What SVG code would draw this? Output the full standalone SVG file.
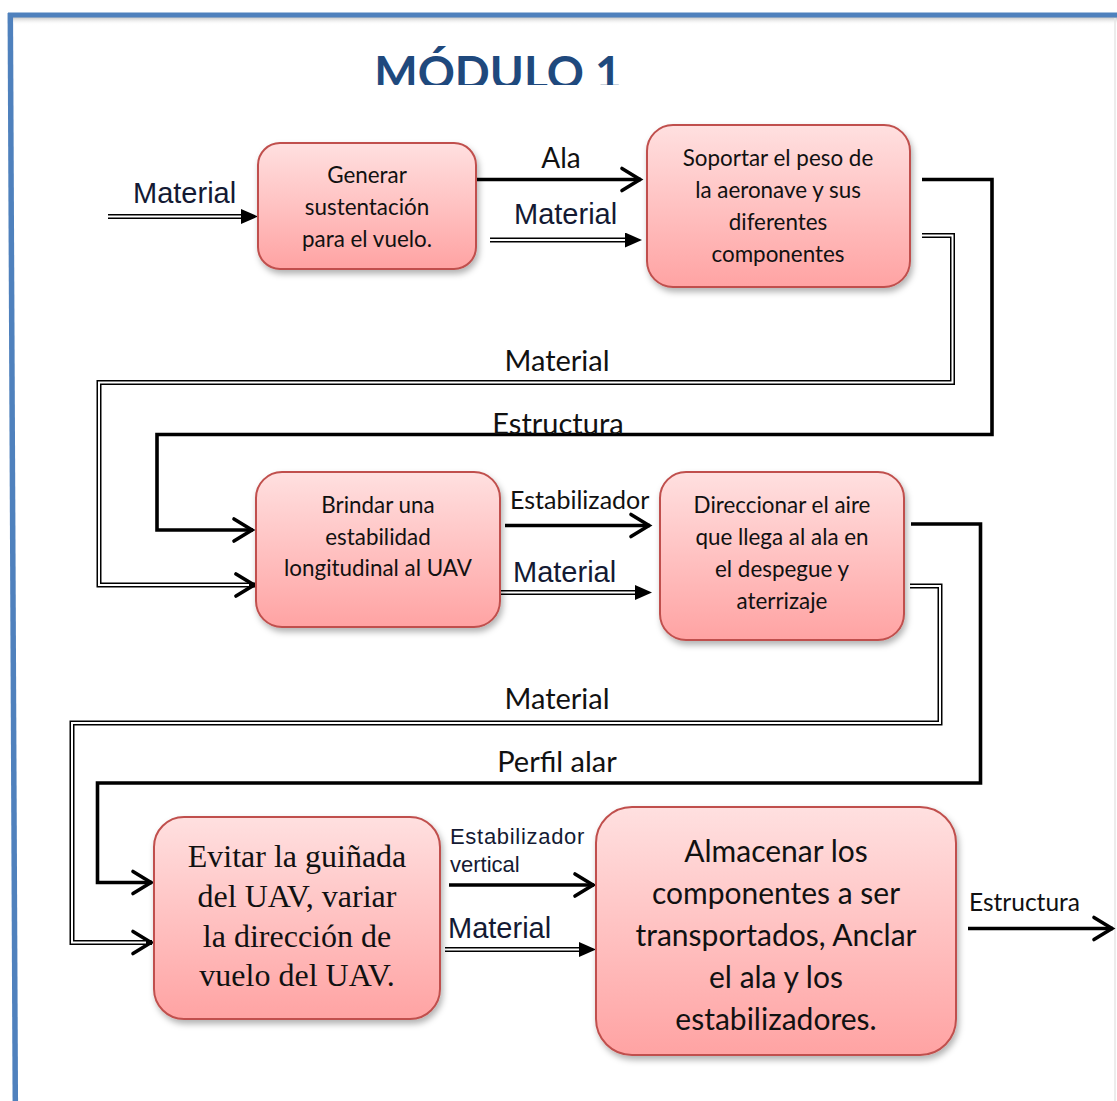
<svg xmlns="http://www.w3.org/2000/svg" width="1117" height="1101" viewBox="0 0 1117 1101">
<defs>
<style>
.box{stroke:#c0504d;stroke-width:2;fill:url(#pink);filter:url(#sh)}
.bt{font-family:Lato,"Liberation Sans",sans-serif;font-size:22.4px;fill:#111;text-anchor:middle}
.bt6{font-family:Lato,"Liberation Sans",sans-serif;font-size:30px;fill:#111;text-anchor:middle}
.bt5{font-family:"Liberation Serif","Times New Roman",serif;font-size:32px;fill:#111;text-anchor:middle}
.lab{font-family:Lato,"Liberation Sans",sans-serif;fill:#111}
.ar{font-family:"Liberation Sans",Arial,sans-serif;fill:#141a33}
.thick{fill:none;stroke:#000;stroke-width:3.6;stroke-linejoin:miter}
.dblo{fill:none;stroke:#000;stroke-width:5;stroke-linejoin:miter}
.dbli{fill:none;stroke:#fff;stroke-width:2;stroke-linejoin:miter}
</style>
<linearGradient id="pink" x1="0" y1="0" x2="0" y2="1">
<stop offset="0" stop-color="#ffe0e0"/>
<stop offset="1" stop-color="#ffa3a3"/>
</linearGradient>
<filter id="sh" x="-10%" y="-10%" width="125%" height="130%">
<feDropShadow dx="2" dy="4" stdDeviation="3" flood-color="#000" flood-opacity="0.3"/>
</filter>
<marker id="chev" markerUnits="userSpaceOnUse" viewBox="0 0 26 28" markerWidth="26" markerHeight="28" refX="22" refY="14" orient="auto">
<path d="M3,3 L21,14 L3,25" fill="none" stroke="#000" stroke-width="3.6" stroke-linecap="round"/>
</marker>
<marker id="tri" markerUnits="userSpaceOnUse" viewBox="0 0 17 15" markerWidth="17" markerHeight="15" refX="0" refY="7.5" orient="auto">
<path d="M0,0 L17,7.5 L0,15 z" fill="#000"/>
</marker>
<clipPath id="tclip"><rect x="0" y="0" width="1117" height="85"/></clipPath>
<linearGradient id="fsh" x1="0" y1="0" x2="0" y2="1">
<stop offset="0" stop-color="#999" stop-opacity="0.6"/>
<stop offset="1" stop-color="#fff" stop-opacity="0"/>
</linearGradient>
</defs>
<rect width="1117" height="1101" fill="#fff"/>
<g id="frame">
<rect x="10" y="17" width="1107" height="8" fill="url(#fsh)"/>
<line x1="1115" y1="18" x2="1115" y2="1101" stroke="#e6e6e6" stroke-width="1.5"/>
<line x1="8" y1="15" x2="1117" y2="15" stroke="#4f81bd" stroke-width="5"/>
<line x1="10.3" y1="13" x2="15.3" y2="1101" stroke="#4f81bd" stroke-width="5.5"/>
</g>
<g id="title" clip-path="url(#tclip)">
<text x="498" y="89" font-family="Lato,'Liberation Sans',sans-serif" font-weight="bold" font-size="46" fill="#1f497d" text-anchor="middle">MÓDULO 1</text>
</g>
<g id="connectors">
<path class="dblo" d="M108,216.5 H241" marker-end="url(#tri)"/>
<path class="dbli" d="M108,216.5 H241"/>
<text class="ar" x="133" y="203" font-size="29">Material</text>
<path class="thick" d="M477,179.5 H641" marker-end="url(#chev)"/>
<text class="lab" x="561" y="168" font-size="28" text-anchor="middle">Ala</text>
<path class="dblo" d="M490,240 H625" marker-end="url(#tri)"/>
<path class="dbli" d="M490,240 H625"/>
<text class="ar" x="514" y="224" font-size="29">Material</text>
<path class="thick" d="M922,179.5 H992 V434.5 H157 V530 H253" marker-end="url(#chev)"/>
<text class="lab" x="558" y="434" font-size="29" text-anchor="middle">Estructura</text>
<path class="dblo" d="M922,235.5 H952.5 V382.5 H99 V585 H255" marker-end="url(#chev)"/>
<path class="dbli" d="M922,235.5 H952.5 V382.5 H99 V585 H249"/>
<text class="lab" x="557" y="371" font-size="29" text-anchor="middle">Material</text>
<path class="thick" d="M505,525.5 H650" marker-end="url(#chev)"/>
<text class="lab" x="510" y="509" font-size="25">Estabilizador</text>
<path class="dblo" d="M500,592.5 H635" marker-end="url(#tri)"/>
<path class="dbli" d="M500,592.5 H635"/>
<text class="ar" x="513" y="582" font-size="29">Material</text>
<path class="thick" d="M911,524 H980.5 V783 H97.5 V882.5 H152" marker-end="url(#chev)"/>
<text class="lab" x="557" y="772" font-size="29" text-anchor="middle">Perfil alar</text>
<path class="dblo" d="M910,586 H940 V723 H72 V942.5 H152" marker-end="url(#chev)"/>
<path class="dbli" d="M910,586 H940 V723 H72 V942.5 H146"/>
<text class="lab" x="557" y="709" font-size="29" text-anchor="middle">Material</text>
<path class="thick" d="M449,885 H594" marker-end="url(#chev)"/>
<text class="ar" x="450" y="844" font-size="22" letter-spacing="0.7">Estabilizador</text>
<text class="ar" x="450" y="872" font-size="22">vertical</text>
<path class="dblo" d="M445,949.5 H579" marker-end="url(#tri)"/>
<path class="dbli" d="M445,949.5 H579"/>
<text class="ar" x="448" y="938" font-size="29">Material</text>
<path class="thick" d="M968,928.5 H1113" marker-end="url(#chev)"/>
<text class="lab" x="969" y="911" font-size="24.5">Estructura</text>
</g>
<g id="n1">
<rect class="box" x="258" y="143" width="218" height="126" rx="22"/>
<text class="bt" x="367" y="183">Generar</text>
<text class="bt" x="367" y="215">sustentación</text>
<text class="bt" x="367" y="247">para el vuelo.</text>
</g>
<g id="n2">
<rect class="box" x="647" y="125" width="263" height="162" rx="26"/>
<text class="bt" x="778" y="166">Soportar el peso de</text>
<text class="bt" x="778" y="198">la aeronave y sus</text>
<text class="bt" x="778" y="230">diferentes</text>
<text class="bt" x="778" y="262">componentes</text>
</g>
<g id="n3">
<rect class="box" x="256" y="472" width="244" height="155" rx="26"/>
<text class="bt" x="378" y="513">Brindar una</text>
<text class="bt" x="378" y="545">estabilidad</text>
<text class="bt" x="378" y="576">longitudinal al UAV</text>
</g>
<g id="n4">
<rect class="box" x="660" y="472" width="244" height="168" rx="26"/>
<text class="bt" x="782" y="513">Direccionar el aire</text>
<text class="bt" x="782" y="545">que llega al ala en</text>
<text class="bt" x="782" y="577">el despegue y</text>
<text class="bt" x="782" y="609">aterrizaje</text>
</g>
<g id="n5">
<rect class="box" x="154" y="817" width="286" height="202" rx="30"/>
<text class="bt5" x="297" y="867">Evitar la guiñada</text>
<text class="bt5" x="297" y="907">del UAV, variar</text>
<text class="bt5" x="297" y="947">la dirección de</text>
<text class="bt5" x="297" y="986">vuelo del UAV.</text>
</g>
<g id="n6">
<rect class="box" x="596" y="807" width="360" height="248" rx="36"/>
<text class="bt6" x="776" y="862">Almacenar los</text>
<text class="bt6" x="776" y="904">componentes a ser</text>
<text class="bt6" x="776" y="946">transportados, Anclar</text>
<text class="bt6" x="776" y="988">el ala y los</text>
<text class="bt6" x="776" y="1030">estabilizadores.</text>
</g>
</svg>
